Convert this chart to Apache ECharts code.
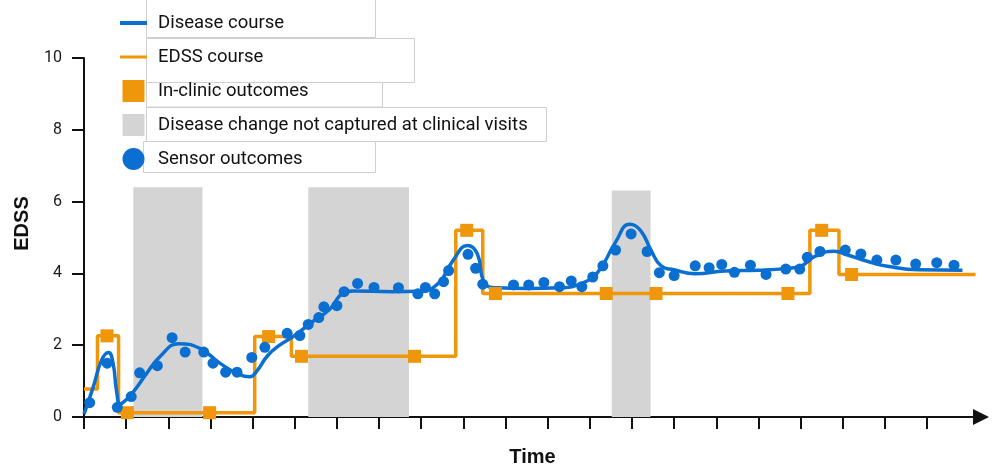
<!DOCTYPE html>
<html><head><meta charset="utf-8">
<script src="https://cdn.jsdelivr.net/npm/echarts@6/dist/echarts.min.js"></script>
<style>html,body{margin:0;padding:0;background:#fff}#c{width:998px;height:465px}</style>
</head><body><div id="c"></div>
<script>
// ---- data ----
const yTickValues = [0, 2, 4, 6, 8, 10];
const xTickValues = [0,1,2,3,4,5,6,7,8,9,10,11,12,13,14,15,16,17,18,19,20];

const curveT = [0.0,0.22,0.42,0.58,0.69,0.77,0.86,0.97,1.17,1.49,1.8,2.25,2.75,3.22,3.62,3.93,4.1,4.35,4.64,4.96,5.43,5.83,6.15,6.4,7.3,7.95,8.4,8.75,9.1,9.33,9.5,9.8,10.5,11.3,11.8,12.2,12.6,12.95,13.2,13.45,13.7,14.0,14.5,15.2,16.0,16.7,17.0,17.35,17.8,18.1,18.6,19.1,19.8,20.84];
const curveV = [0.08,0.84,1.59,1.8,1.49,0.75,0.36,0.45,0.7,1.22,1.68,2.04,1.91,1.5,1.22,1.12,1.28,1.7,2.0,2.24,2.66,3.0,3.45,3.51,3.49,3.5,3.72,4.35,4.78,4.55,3.75,3.6,3.58,3.6,3.72,4.05,4.85,5.37,5.2,4.65,4.2,4.1,3.99,4.07,4.09,4.14,4.2,4.48,4.62,4.52,4.33,4.19,4.1,4.09];

const sensorT = [0.135,0.55,0.79,1.12,1.32,1.74,2.09,2.4,2.84,3.06,3.36,3.63,3.98,4.29,4.82,5.12,5.32,5.57,5.69,6.0,6.17,6.49,6.88,7.46,7.92,8.1,8.32,8.53,8.65,9.11,9.29,9.46,10.19,10.55,10.91,11.28,11.56,11.81,12.07,12.31,12.61,12.98,13.36,13.65,14.0,14.5,14.83,15.13,15.43,15.81,16.18,16.65,16.98,17.16,17.46,18.06,18.43,18.81,19.26,19.73,20.23,20.64];
const sensorV = [0.4,1.5,0.27,0.57,1.23,1.43,2.21,1.81,1.81,1.5,1.25,1.25,1.66,1.94,2.33,2.27,2.58,2.77,3.07,3.1,3.49,3.72,3.61,3.6,3.43,3.61,3.43,3.77,4.08,4.53,4.14,3.7,3.68,3.68,3.75,3.63,3.79,3.63,3.9,4.21,4.65,5.1,4.61,4.02,3.94,4.21,4.16,4.25,4.03,4.23,3.97,4.12,4.12,4.45,4.61,4.65,4.54,4.37,4.37,4.26,4.3,4.23];

const edssT = [0,0.32,0.82,4.05,4.92,8.82,9.46,17.22,17.91,21.15];
const edssV = [0.78,2.26,0.12,2.24,1.69,5.2,3.44,5.2,3.97,3.97];

const clinicT = [0.545,1.03,2.98,4.38,5.16,7.84,9.08,9.76,12.39,13.57,16.7,17.5,18.21];
const clinicV = [2.26,0.12,0.12,2.24,1.69,1.69,5.2,3.44,3.44,3.44,3.44,5.2,3.97];

const bandStart = [1.17, 5.32, 12.52];
const bandEnd   = [2.81, 7.71, 13.44];
const bandTop   = [6.4, 6.4, 6.31];

const legendNames = ['Disease course','EDSS course','In-clinic outcomes','Disease change not captured at clinical visits','Sensor outcomes'];

// ---- style ----
const BLUE = '#0a6fd0', ORANGE = '#f0960a', GRAY = '#d4d4d4';
const zip = (a, b) => a.map((v, i) => [v, b[i]]);

const chart = echarts.init(document.getElementById('c'), null, {renderer: 'canvas'});
const boxStyle = {fill: '#fff', stroke: '#cfcfcf', lineWidth: 1};
chart.setOption({
  animation: false,
  backgroundColor: '#fff',
  grid: {left: 84, right: 17, top: 58, bottom: 48, outerBoundsMode: 'none', containLabel: false},
  graphic: [
    {type: 'rect', shape: {x: 146.5, y: -2, width: 229, height: 39.5}, style: boxStyle, z: 0},
    {type: 'rect', shape: {x: 146.5, y: 38.5, width: 268, height: 44}, style: boxStyle, z: 0},
    {type: 'rect', shape: {x: 146.5, y: 82.5, width: 236, height: 24.5}, style: boxStyle, z: 0},
    {type: 'rect', shape: {x: 146.5, y: 107.5, width: 400, height: 34}, style: boxStyle, z: 0},
    {type: 'rect', shape: {x: 143.5, y: 141.5, width: 232, height: 31}, style: boxStyle, z: 0}
  ],
  legend: {
    orient: 'vertical', left: 118, top: 12, padding: 0,
    itemWidth: 27, itemHeight: 22, itemGap: 12,
    selectedMode: false,
    textStyle: {fontFamily: 'Roboto', fontSize: 18.5, color: '#111', lineHeight: 22, padding: [0, 0, 0, 6]},
    data: [
      {name: legendNames[0], itemStyle: {opacity: 0}, lineStyle: {width: 4, color: BLUE}},
      {name: legendNames[1], itemStyle: {opacity: 0}, lineStyle: {width: 3, color: ORANGE}},
      {name: legendNames[2], icon: 'path://M0,0H10V10H0Z'},
      {name: legendNames[3], icon: 'path://M0,0H10V10H0Z'},
      {name: legendNames[4], icon: 'circle'}
    ]
  },
  xAxis: {
    type: 'value', min: 0, max: 21.28, interval: 1,
    name: 'Time', nameLocation: 'middle', nameGap: 30,
    nameTextStyle: {fontFamily: 'Liberation Sans', fontWeight: 'bold', fontSize: 20, color: '#111'},
    axisLine: {show: true, symbol: ['none', 'triangle'], symbolSize: [16, 16], lineStyle: {color: '#111', width: 2}},
    axisTick: {show: true, length: 12, inside: false, customValues: xTickValues, lineStyle: {color: '#111', width: 2}},
    axisLabel: {show: false},
    splitLine: {show: false}
  },
  yAxis: {
    type: 'value', min: 0, max: 10, interval: 2,
    name: 'EDSS', nameLocation: 'middle', nameGap: 52,
    nameTextStyle: {fontFamily: 'Liberation Sans', fontWeight: 'bold', fontSize: 20, color: '#111', padding: [0, 0, 0, 28]},
    axisLine: {show: true, lineStyle: {color: '#111', width: 2}},
    axisTick: {show: true, length: 12, inside: false, lineStyle: {color: '#111', width: 2}},
    axisLabel: {fontFamily: 'Roboto', fontSize: 16, color: '#1a1a1a', margin: 22, customValues: yTickValues},
    splitLine: {show: false}
  },
  series: [
    {
      name: legendNames[3], type: 'custom', z: 1,
      itemStyle: {color: GRAY},
      encode: {x: [0, 1], y: 2},
      data: bandStart.map((s, i) => [s, bandEnd[i], bandTop[i]]),
      renderItem: function (params, api) {
        const p0 = api.coord([api.value(0), api.value(2)]);
        const p1 = api.coord([api.value(1), 0]);
        return {type: 'rect', shape: {x: p0[0], y: p0[1], width: p1[0] - p0[0], height: p1[1] - p0[1]}, style: {fill: GRAY}};
      }
    },
    {
      name: legendNames[1], type: 'line', z: 2, step: 'end',
      symbol: 'none', data: zip(edssT, edssV),
      itemStyle: {color: ORANGE},
      lineStyle: {color: ORANGE, width: 3.5}
    },
    {
      name: legendNames[0], type: 'line', z: 3, smooth: 0.5,
      symbol: 'none', data: zip(curveT, curveV),
      itemStyle: {color: BLUE},
      lineStyle: {color: BLUE, width: 3.5}
    },
    {
      name: legendNames[2], type: 'scatter', z: 4, symbol: 'rect', symbolSize: 13,
      data: zip(clinicT, clinicV), itemStyle: {color: ORANGE, opacity: 1}
    },
    {
      name: legendNames[4], type: 'scatter', z: 5, symbol: 'circle', symbolSize: 11,
      data: zip(sensorT, sensorV), itemStyle: {color: BLUE, opacity: 1}
    }
  ]
});
</script></body></html>
